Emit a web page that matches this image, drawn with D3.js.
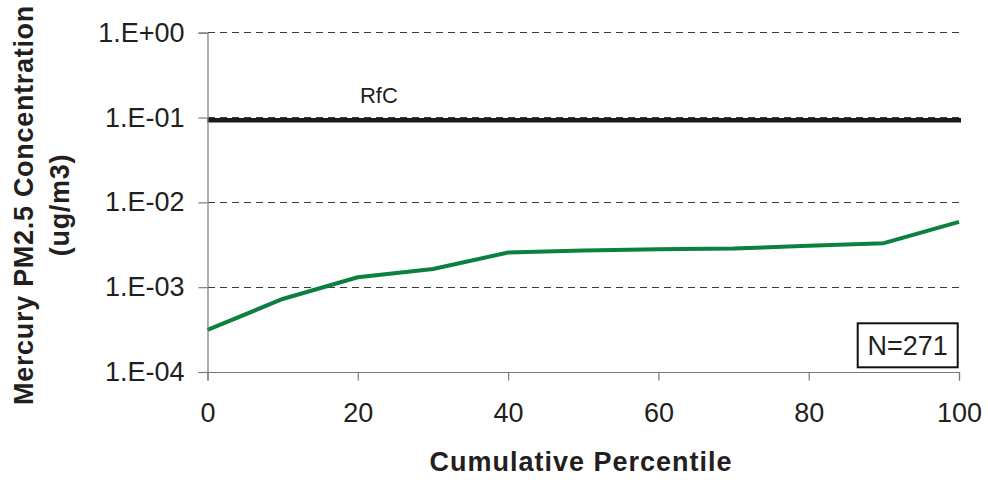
<!DOCTYPE html>
<html>
<head>
<meta charset="utf-8">
<script src="https://cdn.jsdelivr.net/npm/d3@7"></script>
<style>
  html, body { margin: 0; padding: 0; background: #ffffff; }
  svg { display: block; font-family: "Liberation Sans", Arial, sans-serif; }
</style>
</head>
<body>
<svg id="chart" width="988" height="480"></svg>
<script>
// Cumulative distribution of mercury PM2.5 concentrations
const percentiles = [0, 10, 20, 30, 40, 50, 60, 70, 80, 90, 100];
const concentrations = [3.13e-4, 7.26e-4, 1.31e-3, 1.64e-3, 2.56e-3, 2.70e-3, 2.80e-3, 2.85e-3, 3.07e-3, 3.30e-3, 5.89e-3];

// Reference concentration (RfC) line
const rfcValue = 0.093;
const rfcLabel = "RfC";
const sampleLabel = "N=271";

// Axis ticks
const xTickValues = [0, 20, 40, 60, 80, 100];
const yTickValues = [1e-4, 1e-3, 1e-2, 1e-1, 1];
const yTickLabels = ["1.E-04", "1.E-03", "1.E-02", "1.E-01", "1.E+00"];
const gridValues = [1e-3, 1e-2, 1e-1, 1];

const xTitle = "Cumulative Percentile";
const yTitleLines = ["Mercury PM2.5 Concentration", "(ug/m3)"];

const svg = d3.select("#chart");
const plot = { left: 207.5, right: 959, top: 32.7, bottom: 372 };
const textColor = "#231f20";

const x = d3.scaleLinear().domain([0, 100]).range([plot.left, plot.right]);
const y = d3.scaleLog().domain([1e-4, 1]).range([plot.bottom, plot.top]);

// Dashed horizontal gridlines
svg.append("g")
  .selectAll("line")
  .data(gridValues)
  .join("line")
  .attr("x1", plot.left)
  .attr("x2", plot.right)
  .attr("y1", d => y(d))
  .attr("y2", d => y(d))
  .attr("stroke", "#3a3a3a")
  .attr("stroke-width", 1)
  .attr("shape-rendering", "crispEdges")
  .attr("stroke-dasharray", "7,5");

// RfC reference line
svg.append("line")
  .attr("x1", x(0))
  .attr("x2", x(100) + 2)
  .attr("y1", y(rfcValue))
  .attr("y2", y(rfcValue))
  .attr("stroke", "#1a1a1a")
  .attr("stroke-width", 4.5);

svg.append("text")
  .attr("x", x(22.8))
  .attr("y", 102.7)
  .attr("text-anchor", "middle")
  .attr("font-size", 22)
  .attr("fill", textColor)
  .text(rfcLabel);

// Concentration curve
const line = d3.line()
  .x((d, i) => x(percentiles[i]))
  .y(d => y(d));

svg.append("path")
  .datum(concentrations)
  .attr("d", line)
  .attr("fill", "none")
  .attr("stroke", "#0b8040")
  .attr("stroke-width", 4)
  .attr("stroke-linejoin", "round");

// Axes
const yAxis = d3.axisLeft(y)
  .tickValues(yTickValues)
  .tickFormat((d, i) => yTickLabels[i])
  .tickSize(9)
  .tickPadding(14);

const xAxis = d3.axisBottom(x)
  .tickValues(xTickValues)
  .tickFormat(d3.format("d"))
  .tickSize(8.5)
  .tickPadding(22);

const gy = svg.append("g")
  .attr("transform", `translate(${plot.left},0)`)
  .call(yAxis);

const gx = svg.append("g")
  .attr("transform", `translate(0,${plot.bottom})`)
  .call(xAxis);

[gx, gy].forEach(g => {
  g.select(".domain").attr("stroke", "#7a7a7a").attr("stroke-width", 1.2);
  g.selectAll(".tick line").attr("stroke", "#7a7a7a").attr("stroke-width", 1.2);
  g.selectAll(".tick text")
    .attr("fill", textColor)
    .attr("font-size", 27)
    .attr("font-family", "'Liberation Sans', Arial, sans-serif");
});

// Sample size box
const box = svg.append("g");
box.append("rect")
  .attr("x", 857.7)
  .attr("y", 323.3)
  .attr("width", 100)
  .attr("height", 44)
  .attr("fill", "#ffffff")
  .attr("stroke", "#111111")
  .attr("stroke-width", 2);
box.append("text")
  .attr("x", 907.7)
  .attr("y", 355)
  .attr("text-anchor", "middle")
  .attr("font-size", 27)
  .attr("fill", textColor)
  .text(sampleLabel);

// Axis titles
svg.append("text")
  .attr("x", 581)
  .attr("y", 470.7)
  .attr("text-anchor", "middle")
  .attr("font-size", 27)
  .attr("font-weight", "bold")
  .attr("letter-spacing", "1px")
  .attr("fill", textColor)
  .text(xTitle);

const yTitle = svg.append("g");
yTitleLines.forEach((t, i) => {
  yTitle.append("text")
    .attr("transform", `translate(${[33, 69][i]},205) rotate(-90)`)
    .attr("text-anchor", "middle")
    .attr("font-size", 27)
    .attr("font-weight", "bold")
    .attr("letter-spacing", "0.7px")
    .attr("fill", textColor)
    .text(t);
});
</script>
</body>
</html>
